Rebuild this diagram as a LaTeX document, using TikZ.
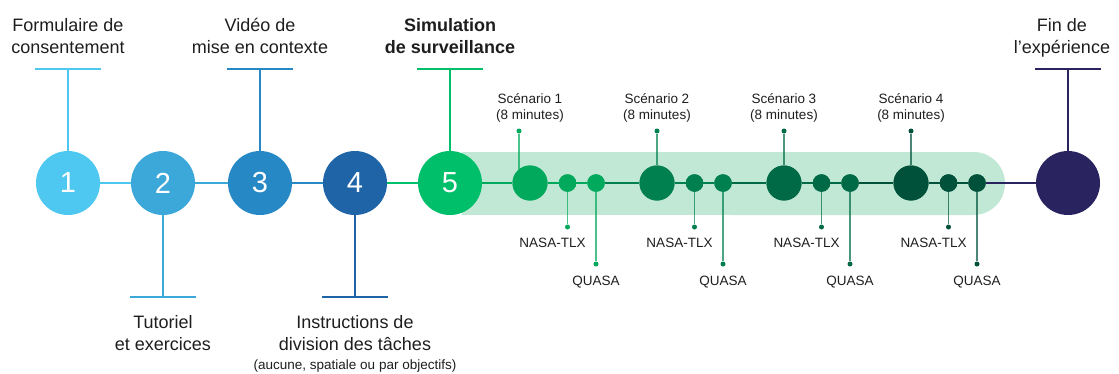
\documentclass[tikz,border=0pt]{standalone}
\usepackage{fontspec}
\setmainfont{Liberation Sans}
% step colours
\definecolor{cA}{HTML}{4EC8F0}
\definecolor{cB}{HTML}{3CA8DA}
\definecolor{cC}{HTML}{2788C6}
\definecolor{cD}{HTML}{2064A8}
\definecolor{cE}{HTML}{00BF6B}
\definecolor{cF}{HTML}{29235F}
% scenario colours
\definecolor{g1}{HTML}{00A95C}
\definecolor{g2}{HTML}{007F4F}
\definecolor{g3}{HTML}{006A46}
\definecolor{g4}{HTML}{00513A}
\definecolor{band}{HTML}{C0E8D5}
\definecolor{txt}{HTML}{1E1E1E}
\tikzset{
  stepnode/.style={circle, minimum size=64pt, inner sep=0pt, text=white,
    font=\fontsize{29}{29}\selectfont},
  bigdot/.style={circle, minimum size=35pt, inner sep=0pt},
  smalldot/.style={circle, minimum size=17.5pt, inner sep=0pt},
  pin/.style={circle, minimum size=5pt, inner sep=0pt},
  % base anchor of a multi-line node is the baseline of its last line
  lbl/.style={align=center, inner sep=0pt, anchor=base, text=txt,
    font=\fontsize{18}{21.5}\selectfont},
  slbl/.style={align=center, inner sep=0pt, anchor=base, text=txt,
    font=\fontsize{13.5}{16}\selectfont},
  link/.style={line width=2pt},
  stem/.style={line width=1.8pt},
  bar/.style={line width=2.4pt},
  thin/.style={line width=1.6pt, opacity=0.7},
}
\begin{document}
\begin{tikzpicture}[x=1pt, y=-1pt]
\useasboundingbox (0,0) rectangle (1119,373);

% light band behind the surveillance simulation
\fill[band] (462,152) rectangle (800,215);
\fill[band, rounded corners=31.5pt] (700,152) rectangle (1005,215);

% main steps
\node[stepnode, fill=cA] (s1) at (68,183) {1};
\node[stepnode, fill=cB] (s2) at (163,183) {2};
\node[stepnode, fill=cC] (s3) at (260,183) {3};
\node[stepnode, fill=cD] (s4) at (355,183) {4};
\node[stepnode, fill=cE] (s5) at (450,183) {5};
\node[stepnode, fill=cF] (s6) at (1068,183) {};

% scenario blocks: big circle, NASA-TLX, QUASA
\foreach \k/\x/\c in {1/530/g1, 2/657/g2, 3/784/g3, 4/911/g4}{
  \node[bigdot, fill=\c] (b\k) at (\x,183) {};
  \node[smalldot, fill=\c] (n\k) at (\x+37.5,183) {};
  \node[smalldot, fill=\c] (q\k) at (\x+66,183) {};
  \node[pin, fill=\c] (nd\k) at (\x+37.5,227) {};
  \node[pin, fill=\c] (qd\k) at (\x+66,264) {};
  \node[slbl] (nl\k) at (\x+22.5,247) {NASA-TLX};
  \node[slbl] (ql\k) at (\x+66,285) {QUASA};
  \node[slbl] (sl\k) at (\x,119) {Scénario \k\\(8 minutes)};
}
\node[pin, fill=g1] (t1) at (519,131) {};
\node[pin, fill=g2] (t2) at (657,131) {};
\node[pin, fill=g3] (t3) at (784,131) {};
\node[pin, fill=g4] (t4) at (911,131) {};

% top and bottom markers of the main steps
\coordinate (m1) at (68,69);
\coordinate (m2) at (163,297);
\coordinate (m3) at (260,69);
\coordinate (m4) at (355,297);
\coordinate (m5) at (450,69);
\coordinate (m6) at (1068,69);

% connectors (circles are repainted on top afterwards)
\draw[link, cA] (s1) -- (s2);
\draw[link, cB] (s2) -- (s3);
\draw[link, cC] (s3) -- (s4);
\draw[link, cE] (s4) -- (s5);
\draw[link, g1] (s5) -- (b1);
\draw[link, g1] (b1) -- (n1) -- (q1);
\draw[link, g2] (q1) -- (b2);
\draw[link, g2] (b2) -- (n2) -- (q2);
\draw[link, g3] (q2) -- (b3);
\draw[link, g3] (b3) -- (n3) -- (q3);
\draw[link, g4] (q3) -- (b4);
\draw[link, g4] (b4) -- (n4) -- (q4);
\draw[link, cF] (q4) -- (s6);

% pins of the scenario blocks
\draw[thin, g1] (t1) -- (t1 |- b1);
\draw[thin, g2] (t2) -- (b2);
\draw[thin, g3] (t3) -- (b3);
\draw[thin, g4] (t4) -- (b4);
\foreach \k/\c in {1/g1, 2/g2, 3/g3, 4/g4}{
  \draw[thin, \c] (n\k) -- (nd\k);
  \draw[thin, \c] (q\k) -- (qd\k);
}

% repaint circles over the connectors
\foreach \k/\x/\c in {1/530/g1, 2/657/g2, 3/784/g3, 4/911/g4}{
  \node[bigdot, fill=\c] (rb\k) at (\x,183) {};
  \node[smalldot, fill=\c] (rn\k) at (\x+37.5,183) {};
  \node[smalldot, fill=\c] (rq\k) at (\x+66,183) {};
}

% step markers
\draw[stem, cA] (m1) -- (s1);
\draw[bar, cA] ([xshift=-33pt]m1) -- ([xshift=33pt]m1);
\draw[stem, cB] (m2) -- (s2);
\draw[bar, cB] ([xshift=-33pt]m2) -- ([xshift=33pt]m2);
\draw[stem, cC] (m3) -- (s3);
\draw[bar, cC] ([xshift=-33pt]m3) -- ([xshift=33pt]m3);
\draw[stem, cD] (m4) -- (s4);
\draw[bar, cD] ([xshift=-33pt]m4) -- ([xshift=33pt]m4);
\draw[stem, cE] (m5) -- (s5);
\draw[bar, cE] ([xshift=-33pt]m5) -- ([xshift=33pt]m5);
\draw[stem, cF] (m6) -- (s6);
\draw[bar, cF] ([xshift=-33pt]m6) -- ([xshift=33pt]m6);

% step labels
\node[lbl] (l1) at (68,53) {Formulaire de\\consentement};
\node[lbl] (l3) at (260,53) {Vidéo de\\mise en contexte};
\node[lbl, font=\fontsize{18}{21.5}\selectfont\bfseries] (l5) at (450,53) {Simulation\\de surveillance};
\node[lbl] (l6) at (1062,53) {Fin de\\l’expérience};
\node[lbl] (l2) at (163,350) {Tutoriel\\et exercices};
\node[lbl] (l4) at (355,350) {Instructions de\\division des tâches};
\node[slbl] (l4b) at (355,369) {(aucune, spatiale ou par objectifs)};
\end{tikzpicture}
\end{document}
